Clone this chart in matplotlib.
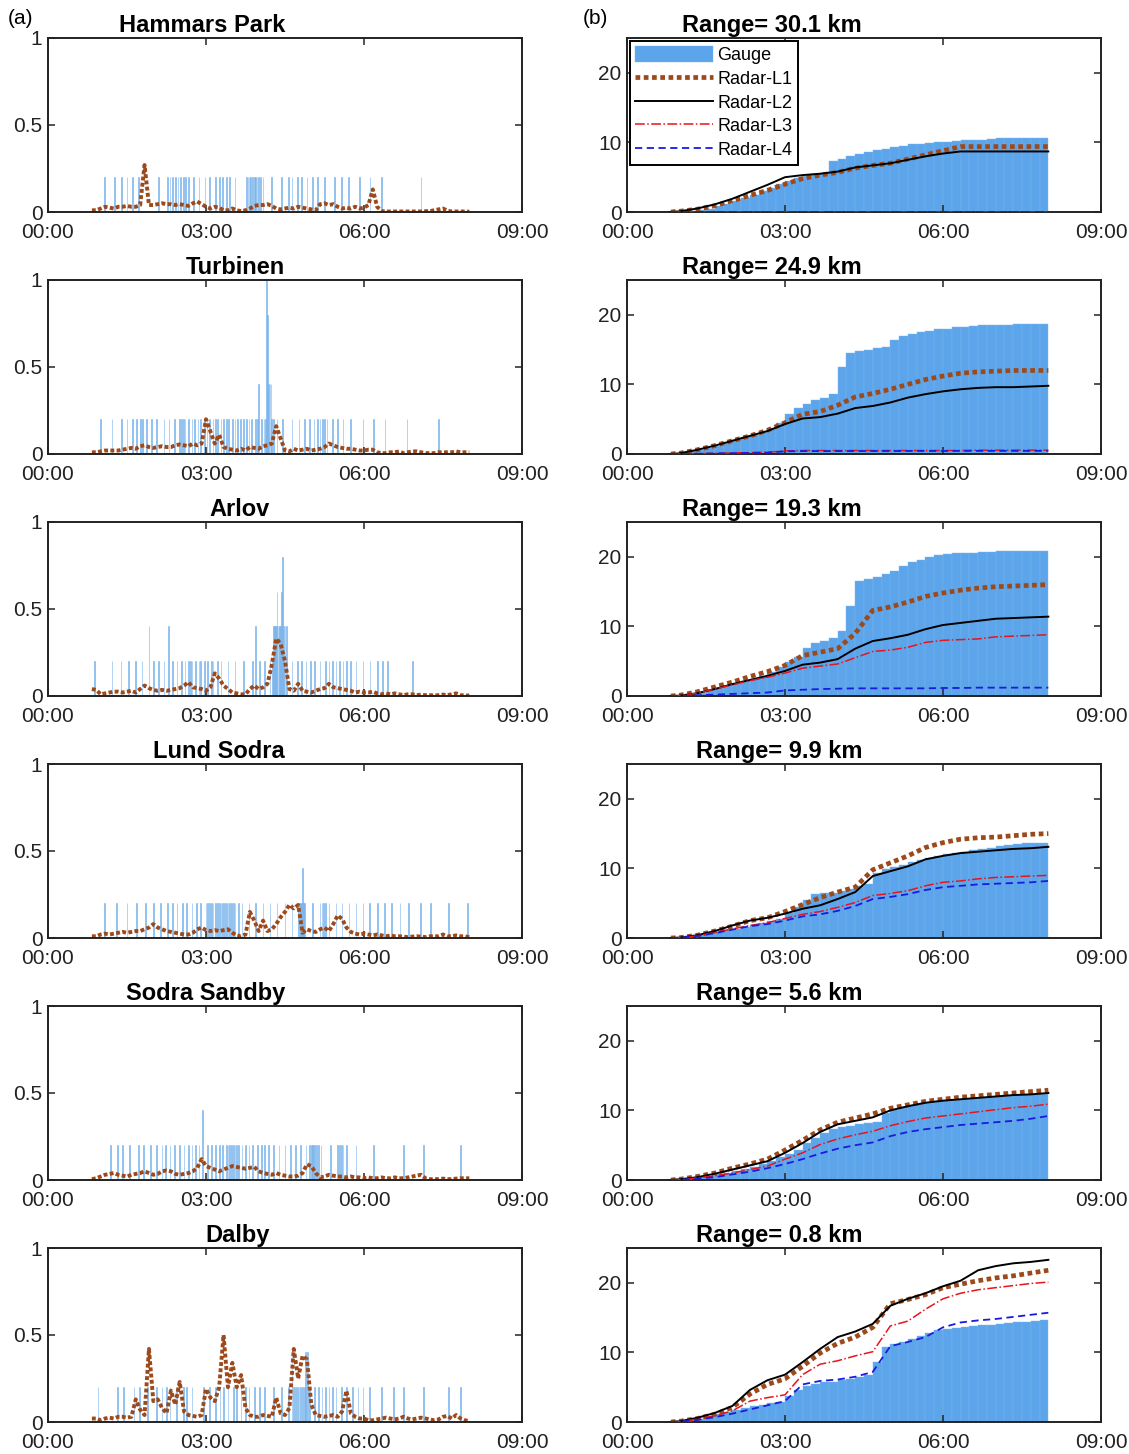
import numpy as np
import matplotlib.pyplot as plt

plt.rcParams['font.family'] = ['Liberation Sans', 'DejaVu Sans']

# %% Data

stations = ["Hammars Park", "Turbinen", "Arlov", "Lund Sodra", "Sodra Sandby", "Dalby"]
ranges_km = [30.1, 24.9, 19.3, 9.9, 5.6, 0.8]

xtick_min = [0, 180, 360, 540]
xtick_lab = ["00:00", "03:00", "06:00", "09:00"]

# time axes in minutes after 00:00
rate_t = np.arange(50, 481, 5)      # radar rate, 5 min
gauge_t = np.arange(50, 481, 10)    # gauge accumulation, 10 min
cum_t = [50, 60, 80, 100, 120, 140, 160, 180, 200, 220, 240, 260,
         280, 300, 320, 340, 360, 380, 400, 420, 440, 460, 480]

# gauge bucket tips (minute of each 0.2 mm tip)
hp_tips = [64, 76, 84, 90, 96, 103, 126, 136, 139, 142, 145, 148, 151, 154, 157, 160,
           166, 172, 179, 184, 191, 195, 199, 203, 207, 213, 226, 228, 229, 230, 231,
           233, 235, 236, 238, 240, 242, 245, 255, 266, 274, 278, 284, 289, 295, 301,
           307, 315, 326, 334, 342, 355, 367, 380, 425]
tb_tips = [60, 73, 84, 90, 96, 101, 105, 108, 112, 118, 124, 132, 138, 144, 150, 152,
           154, 156, 160, 164, 167, 171, 174, 178, 181, 184, 188, 191, 193, 197, 200,
           203, 206, 210, 213, 216, 219, 223, 226, 229, 232, 236, 239, 240, 240, 243,
           246, 248, 249, 249, 249, 249, 249, 250, 250, 250, 250, 251, 251, 253, 253,
           254, 254, 255, 257, 261, 267, 278, 286, 292, 298, 303, 307, 310, 313, 315,
           318, 324, 330, 336, 345, 359, 371, 384, 409, 445]
ar_tips = [53, 73, 83, 92, 100, 107, 115, 115, 120, 126, 132, 137, 137, 142, 147, 152,
           156, 160, 162, 164, 168, 172, 174, 178, 182, 186, 188, 193, 197, 205, 213,
           223, 233, 236, 236, 241, 247, 253, 256, 257, 257, 258, 258, 259, 259, 260,
           260, 261, 261, 261, 262, 262, 263, 263, 264, 264, 265, 265, 266, 266, 266,
           267, 267, 267, 267, 268, 268, 269, 270, 270, 272, 272, 278, 284, 289, 294,
           299, 304, 310, 316, 320, 324, 328, 332, 336, 340, 345, 351, 359, 367, 375,
           381, 387, 415]
ls_tips = [64, 78, 90, 101, 111, 120, 128, 136, 142, 147, 153, 158, 164, 169, 174, 180,
           182, 184, 186, 188, 191, 193, 195, 197, 199, 201, 203, 205, 207, 209, 211,
           213, 217, 221, 229, 236, 245, 253, 261, 270, 278, 285, 287, 288, 289, 290,
           290, 291, 292, 301, 310, 312, 314, 316, 320, 328, 335, 343, 351, 359, 366,
           375, 383, 391, 401, 411, 424, 436, 456, 478]
ss_tips = [71, 79, 85, 93, 103, 109, 117, 124, 130, 134, 139, 144, 150, 155, 160, 164,
           168, 172, 176, 176, 182, 186, 191, 195, 199, 203, 205, 207, 209, 211, 213,
           215, 217, 221, 225, 229, 233, 239, 243, 247, 251, 257, 263, 270, 276, 282,
           288, 294, 298, 300, 301, 302, 303, 304, 306, 308, 311, 322, 330, 332, 334,
           336, 340, 351, 371, 405, 428, 470]
db_tips = [57, 79, 86, 98, 104, 113, 124, 130, 135, 139, 146, 154, 158, 164, 177, 184,
           191, 196, 200, 205, 211, 215, 220, 225, 229, 235, 241, 247, 257, 266, 274,
           278, 278, 280, 282, 284, 286, 288, 290, 292, 293, 293, 294, 296, 296, 298,
           304, 308, 312, 316, 320, 324, 328, 334, 340, 347, 353, 359, 366, 380, 394,
           405, 428, 456, 470]

# radar L1 rain rate (mm/min) on rate_t
hp_rate = [0.01, 0.01, 0.02, 0.03, 0.025, 0.02, 0.03, 0.03, 0.035, 0.03,
           0.03, 0.04, 0.27, 0.04, 0.04, 0.045, 0.05, 0.045, 0.045, 0.04,
           0.045, 0.04, 0.035, 0.05, 0.06, 0.045, 0.03, 0.02, 0.03, 0.025,
           0.01, 0.01, 0.02, 0.01, 0.005, 0.01, 0.02, 0.035, 0.04, 0.04,
           0.045, 0.035, 0.02, 0.015, 0.02, 0.025, 0.02, 0.03, 0.025, 0.02,
           0.015, 0.01, 0.045, 0.05, 0.04, 0.045, 0.03, 0.02, 0.025, 0.02,
           0.03, 0.02, 0.025, 0.04, 0.13, 0.03, 0.005, 0.003, 0.003, 0.003,
           0.003, 0.003, 0.003, 0.003, 0.003, 0.003, 0.005, 0.005, 0.01, 0.015,
           0.02, 0.008, 0.003, 0.003, 0.003, 0.003, 0.002]
tb_rate = [0.01, 0.01, 0.015, 0.02, 0.02, 0.02, 0.02, 0.025, 0.03, 0.035,
           0.03, 0.045, 0.05, 0.04, 0.035, 0.04, 0.045, 0.04, 0.04, 0.05,
           0.055, 0.05, 0.045, 0.06, 0.05, 0.06, 0.2, 0.13, 0.06, 0.11,
           0.04, 0.03, 0.025, 0.02, 0.03, 0.02, 0.04, 0.035, 0.03, 0.045,
           0.05, 0.06, 0.16, 0.09, 0.02, 0.015, 0.03, 0.02, 0.025, 0.03,
           0.02, 0.025, 0.03, 0.04, 0.06, 0.05, 0.04, 0.035, 0.03, 0.03,
           0.025, 0.02, 0.02, 0.025, 0.025, 0.01, 0.005, 0.005, 0.01, 0.01,
           0.015, 0.005, 0.01, 0.015, 0.015, 0.01, 0.005, 0.005, 0.005, 0.01,
           0.01, 0.01, 0.01, 0.015, 0.01, 0.01, 0.01]
ar_rate = [0.04, 0.035, 0.01, 0.015, 0.02, 0.025, 0.025, 0.02, 0.025, 0.03,
           0.02, 0.04, 0.06, 0.045, 0.035, 0.03, 0.035, 0.03, 0.035, 0.04,
           0.045, 0.06, 0.08, 0.05, 0.045, 0.04, 0.03, 0.05, 0.13, 0.1,
           0.06, 0.04, 0.02, 0.015, 0.01, 0.01, 0.04, 0.06, 0.04, 0.05,
           0.07, 0.18, 0.33, 0.3, 0.2, 0.04, 0.03, 0.07, 0.03, 0.025,
           0.02, 0.03, 0.04, 0.045, 0.07, 0.05, 0.045, 0.04, 0.035, 0.03,
           0.02, 0.025, 0.02, 0.02, 0.025, 0.015, 0.01, 0.015, 0.01, 0.015,
           0.01, 0.005, 0.01, 0.01, 0.005, 0.008, 0.005, 0.005, 0.003, 0.005,
           0.008, 0.005, 0.01, 0.015, 0.005, 0.003, 0.003]
ls_rate = [0.01, 0.01, 0.02, 0.025, 0.02, 0.025, 0.03, 0.035, 0.03, 0.035,
           0.04, 0.04, 0.05, 0.06, 0.08, 0.06, 0.05, 0.04, 0.035, 0.03,
           0.025, 0.02, 0.02, 0.03, 0.05, 0.06, 0.045, 0.04, 0.045, 0.04,
           0.045, 0.05, 0.03, 0.015, 0.01, 0.02, 0.15, 0.1, 0.04, 0.1,
           0.04, 0.05, 0.08, 0.12, 0.15, 0.19, 0.17, 0.19, 0.03, 0.05,
           0.04, 0.035, 0.05, 0.06, 0.04, 0.08, 0.13, 0.11, 0.06, 0.035,
           0.025, 0.02, 0.025, 0.02, 0.015, 0.02, 0.015, 0.01, 0.015, 0.01,
           0.01, 0.008, 0.005, 0.008, 0.01, 0.008, 0.005, 0.01, 0.01, 0.01,
           0.02, 0.01, 0.01, 0.015, 0.01, 0.01, 0.005]
ss_rate = [0.005, 0.01, 0.02, 0.03, 0.035, 0.04, 0.03, 0.025, 0.02, 0.03,
           0.035, 0.04, 0.05, 0.04, 0.03, 0.035, 0.05, 0.055, 0.05, 0.035,
           0.03, 0.035, 0.04, 0.05, 0.07, 0.12, 0.08, 0.07, 0.06, 0.05,
           0.06, 0.07, 0.08, 0.075, 0.07, 0.065, 0.07, 0.075, 0.05, 0.04,
           0.035, 0.03, 0.04, 0.03, 0.025, 0.02, 0.02, 0.025, 0.04, 0.09,
           0.08, 0.04, 0.015, 0.02, 0.03, 0.025, 0.02, 0.02, 0.015, 0.02,
           0.015, 0.015, 0.01, 0.015, 0.01, 0.01, 0.015, 0.01, 0.01, 0.015,
           0.01, 0.01, 0.015, 0.02, 0.025, 0.03, 0.01, 0.005, 0.005, 0.005,
           0.008, 0.005, 0.005, 0.008, 0.01, 0.01, 0.01]
db_rate = [0.02, 0.02, 0.01, 0.02, 0.025, 0.02, 0.03, 0.03, 0.025, 0.03,
           0.13, 0.07, 0.04, 0.42, 0.12, 0.13, 0.08, 0.05, 0.18, 0.1,
           0.23, 0.06, 0.04, 0.035, 0.03, 0.04, 0.19, 0.14, 0.12, 0.2,
           0.5, 0.2, 0.34, 0.2, 0.27, 0.08, 0.04, 0.03, 0.03, 0.04,
           0.035, 0.03, 0.14, 0.05, 0.04, 0.08, 0.42, 0.25, 0.38, 0.36,
           0.1, 0.04, 0.035, 0.03, 0.035, 0.04, 0.03, 0.06, 0.18, 0.05,
           0.03, 0.02, 0.02, 0.01, 0.01, 0.015, 0.02, 0.025, 0.02, 0.015,
           0.02, 0.03, 0.02, 0.015, 0.02, 0.025, 0.02, 0.015, 0.01, 0.015,
           0.03, 0.035, 0.02, 0.04, 0.02, 0.01, 0.005]

# gauge accumulation (mm) on gauge_t
hp_gauge = [0, 0, 0, 0.1, 0.3, 0.5, 0.8, 1.2, 1.6, 2.0, 2.5, 3.0, 3.5, 4.0, 4.5, 4.9,
            5.2, 5.4, 5.6, 7.3, 7.6, 8.0, 8.3, 8.6, 8.9, 9.1, 9.3, 9.5, 9.7, 9.8, 9.9,
            10.0, 10.1, 10.2, 10.3, 10.3, 10.4, 10.5, 10.6, 10.6, 10.6, 10.6, 10.6, 10.6]
tb_gauge = [0, 0, 0.2, 0.4, 0.6, 0.8, 1.2, 1.6, 2.0, 2.4, 2.8, 3.2, 3.7, 4.5, 5.8, 6.6,
            7.2, 7.8, 8.1, 8.6, 12.5, 14.5, 14.8, 15.0, 15.2, 15.4, 16.4, 17.0, 17.3,
            17.5, 17.7, 17.9, 18.0, 18.2, 18.3, 18.4, 18.5, 18.5, 18.6, 18.6, 18.7,
            18.7, 18.7, 18.7]
ar_gauge = [0, 0, 0.1, 0.3, 0.5, 0.8, 1.1, 1.4, 1.7, 2.1, 2.5, 2.9, 3.5, 4.2, 4.9, 5.6,
            6.9, 7.6, 7.9, 8.4, 9.3, 13.0, 16.5, 16.8, 17.1, 17.5, 18.0, 18.7, 19.2,
            19.6, 19.9, 20.2, 20.4, 20.5, 20.6, 20.6, 20.7, 20.7, 20.8, 20.8, 20.8,
            20.8, 20.8, 20.8]
ls_gauge = [0, 0, 0.1, 0.3, 0.5, 0.7, 0.9, 1.1, 1.3, 1.6, 1.8, 2.1, 2.4, 2.8, 3.6, 4.4,
            5.4, 6.3, 6.4, 6.4, 6.7, 7.1, 7.4, 7.7, 9.3, 9.9, 10.2, 10.5, 10.9, 11.2,
            11.5, 11.8, 12.0, 12.2, 12.4, 12.6, 12.8, 13.0, 13.2, 13.4, 13.5, 13.6,
            13.7, 13.7]
ss_gauge = [0, 0, 0.1, 0.2, 0.4, 0.6, 0.8, 1.0, 1.3, 1.6, 1.9, 2.3, 2.7, 3.3, 3.8, 4.3,
            5.3, 6.1, 6.8, 7.3, 7.6, 7.8, 8.0, 8.2, 8.4, 9.6, 10.1, 10.5, 10.8, 11.0,
            11.1, 11.3, 11.4, 11.5, 11.6, 11.7, 11.8, 11.9, 12.0, 12.1, 12.2, 12.3,
            12.4, 12.4]
db_gauge = [0, 0, 0.1, 0.3, 0.5, 0.8, 1.1, 1.4, 1.7, 2.0, 2.3, 2.5, 2.7, 2.9, 3.8, 4.6,
            5.2, 5.5, 5.7, 5.8, 6.0, 6.2, 6.5, 6.8, 8.6, 10.8, 11.2, 11.5, 11.9, 12.3,
            12.8, 13.2, 13.4, 13.5, 13.7, 13.8, 13.9, 14.0, 14.1, 14.2, 14.3, 14.4,
            14.5, 14.6]

# radar accumulations (mm) on cum_t, levels L1..L4
hp_l1 = [0, 0.1, 0.4, 0.9, 1.6, 2.4, 3.1, 4.0, 4.8, 5.3, 5.7, 6.3, 6.7, 7.0, 7.6, 8.2,
         8.8, 9.4, 9.4, 9.4, 9.4, 9.4, 9.4]
hp_l2 = [0, 0.1, 0.5, 1.1, 1.9, 2.9, 3.9, 5.0, 5.3, 5.5, 5.8, 6.4, 6.7, 7.0, 7.5, 8.0,
         8.4, 8.7, 8.7, 8.7, 8.7, 8.7, 8.7]
hp_l3 = [0, 0, 0, 0, 0, 0, 0, 0, 0, 0, 0, 0, 0, 0, 0, 0, 0, 0, 0, 0, 0, 0, 0]
hp_l4 = [0, 0, 0, 0, 0, 0, 0, 0, 0, 0, 0, 0, 0, 0, 0, 0, 0, 0, 0, 0, 0, 0, 0]

tb_l1 = [0, 0.1, 0.6, 1.2, 1.9, 2.6, 3.4, 4.5, 5.7, 6.1, 7.0, 8.2, 8.7, 9.3, 10.0, 10.7,
         11.2, 11.6, 11.8, 11.9, 12.0, 12.0, 12.0]
tb_l2 = [0, 0.1, 0.6, 1.2, 1.9, 2.6, 3.3, 4.3, 5.1, 5.3, 5.8, 6.6, 6.9, 7.4, 8.1, 8.6,
         9.0, 9.3, 9.5, 9.6, 9.6, 9.7, 9.8]
tb_l3 = [0, 0, 0.05, 0.1, 0.15, 0.2, 0.25, 0.45, 0.5, 0.5, 0.5, 0.5, 0.5, 0.5, 0.5, 0.5,
         0.5, 0.5, 0.55, 0.55, 0.55, 0.55, 0.55]
tb_l4 = [0, 0, 0.03, 0.08, 0.12, 0.16, 0.2, 0.38, 0.42, 0.42, 0.42, 0.43, 0.43, 0.43,
         0.44, 0.44, 0.44, 0.45, 0.45, 0.45, 0.45, 0.45, 0.45]

ar_l1 = [0, 0.1, 0.6, 1.3, 2.0, 2.8, 3.5, 4.4, 5.8, 6.3, 6.8, 9.0, 12.3, 12.8, 13.5, 14.3,
         14.8, 15.2, 15.5, 15.7, 15.8, 15.9, 16.0]
ar_l2 = [0, 0.05, 0.4, 1.0, 1.7, 2.3, 2.9, 3.6, 4.5, 4.8, 5.3, 6.8, 7.9, 8.3, 8.8, 9.6,
         10.2, 10.5, 10.8, 11.1, 11.2, 11.3, 11.4]
ar_l3 = [0, 0.05, 0.4, 1.0, 1.6, 2.2, 2.7, 3.3, 4.0, 4.3, 4.6, 5.5, 6.4, 6.6, 7.0, 7.7,
         8.0, 8.1, 8.2, 8.5, 8.6, 8.7, 8.8]
ar_l4 = [0, 0, 0.1, 0.2, 0.3, 0.4, 0.5, 0.8, 0.9, 1.0, 1.05, 1.1, 1.1, 1.1, 1.1, 1.1,
         1.15, 1.15, 1.2, 1.2, 1.2, 1.2, 1.2]

ls_l1 = [0, 0.05, 0.4, 1.0, 1.7, 2.5, 2.9, 3.8, 4.8, 5.8, 6.6, 7.3, 9.8, 10.8, 11.8, 13.0,
         13.7, 14.2, 14.4, 14.5, 14.7, 14.9, 15.0]
ls_l2 = [0, 0.05, 0.4, 1.0, 1.8, 2.5, 2.9, 3.5, 4.2, 4.7, 5.6, 6.6, 8.9, 9.6, 10.3, 11.3,
         11.8, 12.2, 12.4, 12.6, 12.8, 12.9, 13.1]
ls_l3 = [0, 0.05, 0.3, 0.8, 1.3, 1.8, 2.2, 2.8, 3.4, 3.8, 4.4, 5.1, 6.1, 6.4, 6.8, 7.5,
         8.0, 8.2, 8.5, 8.7, 8.8, 8.9, 9.0]
ls_l4 = [0, 0.05, 0.3, 0.7, 1.2, 1.7, 2.0, 2.5, 3.1, 3.4, 3.9, 4.6, 5.6, 5.9, 6.3, 6.9,
         7.3, 7.5, 7.7, 7.8, 7.9, 8.0, 8.2]

ss_l1 = [0, 0.1, 0.5, 1.0, 1.7, 2.3, 3.0, 4.3, 5.7, 7.2, 8.3, 8.9, 9.5, 10.3, 10.8, 11.3,
         11.6, 11.9, 12.1, 12.3, 12.5, 12.7, 12.9]
ss_l2 = [0, 0.1, 0.4, 0.9, 1.5, 2.1, 2.7, 3.9, 5.3, 6.9, 8.0, 8.5, 9.0, 10.0, 10.6, 11.1,
         11.4, 11.6, 11.8, 12.0, 12.2, 12.3, 12.5]
ss_l3 = [0, 0.05, 0.3, 0.6, 1.0, 1.5, 2.0, 3.0, 3.9, 5.1, 5.9, 6.5, 7.0, 7.8, 8.4, 8.9,
         9.2, 9.5, 9.8, 10.1, 10.4, 10.6, 10.9]
ss_l4 = [0, 0.05, 0.2, 0.4, 0.8, 1.2, 1.7, 2.3, 3.0, 3.8, 4.5, 5.0, 5.4, 6.3, 6.9, 7.3,
         7.6, 7.9, 8.1, 8.3, 8.5, 8.8, 9.2]

db_l1 = [0, 0.1, 0.5, 1.1, 2.1, 4.0, 5.4, 6.2, 8.0, 9.9, 11.3, 12.2, 13.6, 17.0, 17.6,
         18.3, 19.3, 19.8, 20.3, 20.7, 21.0, 21.4, 21.8]
db_l2 = [0, 0.1, 0.6, 1.3, 2.3, 4.6, 6.0, 6.8, 8.6, 10.5, 12.2, 13.0, 14.1, 16.7, 17.7,
         18.5, 19.5, 20.3, 21.8, 22.4, 22.8, 23.0, 23.3]
db_l3 = [0, 0.05, 0.4, 0.9, 1.6, 3.0, 3.5, 3.9, 6.8, 8.3, 8.8, 9.5, 10.1, 13.8, 14.5,
         16.2, 17.7, 18.5, 19.0, 19.3, 19.6, 19.9, 20.1]
db_l4 = [0, 0.05, 0.3, 0.7, 1.2, 1.8, 2.4, 3.0, 5.4, 5.9, 6.1, 6.5, 7.2, 10.9, 11.5,
         12.2, 13.6, 14.3, 14.6, 14.8, 15.1, 15.4, 15.7]

tips = [hp_tips, tb_tips, ar_tips, ls_tips, ss_tips, db_tips]
rates = [hp_rate, tb_rate, ar_rate, ls_rate, ss_rate, db_rate]
gauges = [hp_gauge, tb_gauge, ar_gauge, ls_gauge, ss_gauge, db_gauge]
radar = [[hp_l1, hp_l2, hp_l3, hp_l4], [tb_l1, tb_l2, tb_l3, tb_l4],
         [ar_l1, ar_l2, ar_l3, ar_l4], [ls_l1, ls_l2, ls_l3, ls_l4],
         [ss_l1, ss_l2, ss_l3, ss_l4], [db_l1, db_l2, db_l3, db_l4]]

# %% Styles

BLUE = "#5da5ea"
TIP_BLUE = "#78b3ec"
BROWN = "#9c4a1c"
level_names = ["Radar-L1", "Radar-L2", "Radar-L3", "Radar-L4"]
level_style = [
    dict(color=BROWN, lw=3.4, linestyle=(0, (1, 0.75))),
    dict(color="black", lw=1.4, linestyle="-"),
    dict(color="#e8141c", lw=1.1, linestyle="-."),
    dict(color="#1a1ae0", lw=1.3, linestyle=(0, (4, 2.5))),
]
title_x = [0.5, 0.5, 0.468, 0.5, 0.5, 0.468]

W, H = 1129, 1454
fig = plt.figure(figsize=(W / 100, H / 100), dpi=100)


def style_axes(ax):
    ax.set_xlim(0, 540)
    ax.set_xticks(xtick_min)
    ax.set_xticklabels(xtick_lab)
    ax.tick_params(direction="in", top=True, right=True, length=5, width=1.1,
                   labelsize=15, colors="#222222")
    ax.tick_params(axis="x", pad=8)
    ax.tick_params(axis="y", pad=4)
    for s in ax.spines.values():
        s.set_linewidth(1.4)
        s.set_color("#222222")


for i in range(6):
    top = 38 + 242 * i
    bottom = 1 - (top + 174) / H

    # left: per-minute gauge tips and radar L1 rate
    axl = fig.add_axes([48 / W, bottom, 474 / W, 174 / H])
    counts = np.bincount(tips[i], minlength=541)
    minutes = np.nonzero(counts)[0]
    axl.bar(minutes, counts[minutes] * 0.2, width=0.8, color=TIP_BLUE,
            edgecolor=TIP_BLUE, linewidth=0.4, zorder=1)
    axl.plot(rate_t, rates[i], color=BROWN, lw=2.8, linestyle=(0, (1, 0.6)), zorder=2)
    axl.set_ylim(0, 1)
    axl.set_yticks([0, 0.5, 1])
    axl.set_yticklabels(["0", "0.5", "1"])
    style_axes(axl)
    axl.text(title_x[i], 1.035, stations[i], transform=axl.transAxes, ha="right",
             va="baseline", fontsize=17, fontweight="bold")

    # right: accumulations
    axr = fig.add_axes([627 / W, bottom, 474 / W, 174 / H])
    bars = axr.bar(gauge_t, gauges[i], width=-10, align="edge", color=BLUE,
                   edgecolor="#7bb6ee", linewidth=0.3, zorder=1, label="Gauge")
    handles = [bars]
    for lev in range(4):
        ln, = axr.plot(cum_t, radar[i][lev], zorder=3 + lev, label=level_names[lev],
                       **level_style[lev])
        handles.append(ln)
    axr.set_ylim(0, 25)
    axr.set_yticks([0, 10, 20])
    style_axes(axr)
    axr.text(0.496, 1.035, f"Range= {ranges_km[i]} km", transform=axr.transAxes,
             ha="right", va="baseline", fontsize=17, fontweight="bold")

    if i == 0:
        leg = axr.legend(handles=handles, loc="upper left", fontsize=13,
                         handlelength=4.3, handleheight=1.0, labelspacing=0.3,
                         borderpad=0.3, handletextpad=0.25, borderaxespad=0.15,
                         fancybox=False, framealpha=1, edgecolor="black")
        leg.get_frame().set_linewidth(1.4)

fig.text(8 / W, 1 - 19 / H, "(a)", fontsize=15, va="center")
fig.text(583 / W, 1 - 19 / H, "(b)", fontsize=15, va="center")

fig.savefig("out.png", dpi=100, facecolor="white")
